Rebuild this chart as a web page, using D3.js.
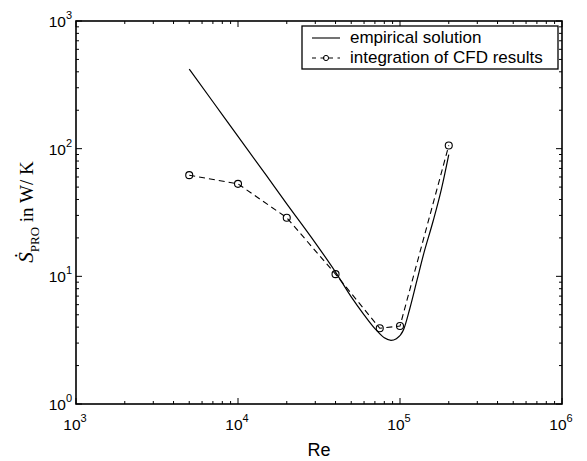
<!DOCTYPE html>
<html><head><meta charset="utf-8">
<script src="https://cdn.jsdelivr.net/npm/d3@7"></script>
<style>body{margin:0;background:#fff}svg{display:block}</style>
</head><body>
<svg id="c" width="587" height="461"></svg>
<script>
// Data
const empiricalRe = [5000, 7000, 10000, 15000, 20000, 30000, 40000, 50000, 60000, 70000, 80000, 88000, 95000, 105000, 115000, 127000, 140000, 160000, 180000, 200000];
const empiricalS  = [420, 233, 125, 61.4, 37, 18.3, 10.8, 6.9, 5.0, 3.9, 3.3, 3.15, 3.25, 3.8, 5.6, 9.2, 15, 27, 48, 90];
const cfdRe = [5000, 10000, 20000, 40000, 75000, 100000, 200000];
const cfdS  = [62, 53, 28.8, 10.4, 3.92, 4.08, 106];
const xTickExps = [3, 4, 5, 6];
const yTickExps = [0, 1, 2, 3];
const legendLabels = ["empirical solution", "integration of CFD results"];

const svg = d3.select("#c");
const L = 76, R = 562, T = 21, B = 404;
const x = d3.scaleLog().domain([1e3, 1e6]).range([L, R]);
const y = d3.scaleLog().domain([1e0, 1e3]).range([B, T]);
const font = "'Liberation Sans', Arial, Helvetica, sans-serif";

// minor + major ticks
const minorX = [], minorY = [];
for (let e = 3; e < 6; e++) for (let m = 2; m <= 9; m++) minorX.push(m * Math.pow(10, e));
for (let e = 0; e < 3; e++) for (let m = 2; m <= 9; m++) minorY.push(m * Math.pow(10, e));
const majorX = xTickExps.map(e => Math.pow(10, e));
const majorY = yTickExps.map(e => Math.pow(10, e));

const g = svg.append("g").attr("stroke", "#000").attr("stroke-width", 1);
function tickX(v, len) {
  g.append("line").attr("x1", x(v)).attr("x2", x(v)).attr("y1", B).attr("y2", B - len);
  g.append("line").attr("x1", x(v)).attr("x2", x(v)).attr("y1", T).attr("y2", T + len);
}
function tickY(v, len) {
  g.append("line").attr("y1", y(v)).attr("y2", y(v)).attr("x1", L).attr("x2", L + len);
  g.append("line").attr("y1", y(v)).attr("y2", y(v)).attr("x1", R).attr("x2", R - len);
}
minorX.forEach(v => tickX(v, 3)); majorX.forEach(v => tickX(v, 6));
minorY.forEach(v => tickY(v, 3)); majorY.forEach(v => tickY(v, 6));

// frame
svg.append("rect").attr("x", L).attr("y", T).attr("width", R - L).attr("height", B - T)
  .attr("fill", "none").attr("stroke", "#000").attr("stroke-width", 1.6);

// tick labels
xTickExps.forEach(e => {
  const t = svg.append("text").attr("x", x(Math.pow(10, e)) - 1).attr("y", 430)
    .attr("text-anchor", "middle").attr("font-family", font).attr("font-size", 15.5);
  t.append("tspan").text("10");
  t.append("tspan").attr("dy", -8).attr("font-size", 11).text(e);
});
yTickExps.forEach(e => {
  const t = svg.append("text").attr("x", 72).attr("y", y(Math.pow(10, e)) + 6)
    .attr("text-anchor", "end").attr("font-family", font).attr("font-size", 15.5);
  t.append("tspan").text("10");
  t.append("tspan").attr("dy", -8).attr("font-size", 11).text(e);
});

// axis labels
svg.append("text").attr("x", (L + R) / 2).attr("y", 456).attr("text-anchor", "middle")
  .attr("font-family", font).attr("font-size", 18).text("Re");
const yl = svg.append("text").attr("transform", "translate(33,212) rotate(-90)")
  .attr("text-anchor", "middle").attr("font-family", "'Liberation Serif', 'Times New Roman', serif").attr("font-size", 19);
yl.append("tspan").attr("font-style", "italic").attr("font-size", 21).text("Ṡ");
yl.append("tspan").attr("dy", 6).attr("font-size", 13).text("PRO");
yl.append("tspan").attr("dy", -6).text(" in W/ K");

// lines
const lineE = d3.line().x(d => x(d[0])).y(d => y(d[1])).curve(d3.curveMonotoneX);
const lineC = d3.line().x(d => x(d[0])).y(d => y(d[1])).curve(d3.curveLinear);
const emp = empiricalRe.map((r, i) => [r, empiricalS[i]]);
const cfd = cfdRe.map((r, i) => [r, cfdS[i]]);
svg.append("path").attr("d", lineE(emp)).attr("fill", "none").attr("stroke", "#000").attr("stroke-width", 1.2);
svg.append("path").attr("d", lineC(cfd)).attr("fill", "none").attr("stroke", "#000").attr("stroke-width", 1.1)
  .attr("stroke-dasharray", "6,4");
svg.selectAll("circle.cfd").data(cfd).enter().append("circle").attr("class", "cfd")
  .attr("cx", d => x(d[0])).attr("cy", d => y(d[1])).attr("r", 3.5)
  .attr("fill", "none").attr("stroke", "#000").attr("stroke-width", 1.1);

// legend
const lg = svg.append("g");
lg.append("rect").attr("x", 302).attr("y", 26).attr("width", 256).attr("height", 43)
  .attr("fill", "#fff").attr("stroke", "#000").attr("stroke-width", 1.3);
lg.append("line").attr("x1", 312).attr("x2", 340).attr("y1", 38).attr("y2", 38).attr("stroke", "#000").attr("stroke-width", 1.1);
lg.append("line").attr("x1", 312).attr("x2", 340).attr("y1", 58).attr("y2", 58).attr("stroke", "#000").attr("stroke-width", 1.1).attr("stroke-dasharray", "4,4.5");
lg.append("circle").attr("cx", 326).attr("cy", 58).attr("r", 2.6).attr("fill", "none").attr("stroke", "#000").attr("stroke-width", 1);
legendLabels.forEach((s, i) => {
  lg.append("text").attr("x", 350).attr("y", 43 + i * 20).attr("font-family", font).attr("font-size", 17).text(s);
});
</script>
</body></html>
